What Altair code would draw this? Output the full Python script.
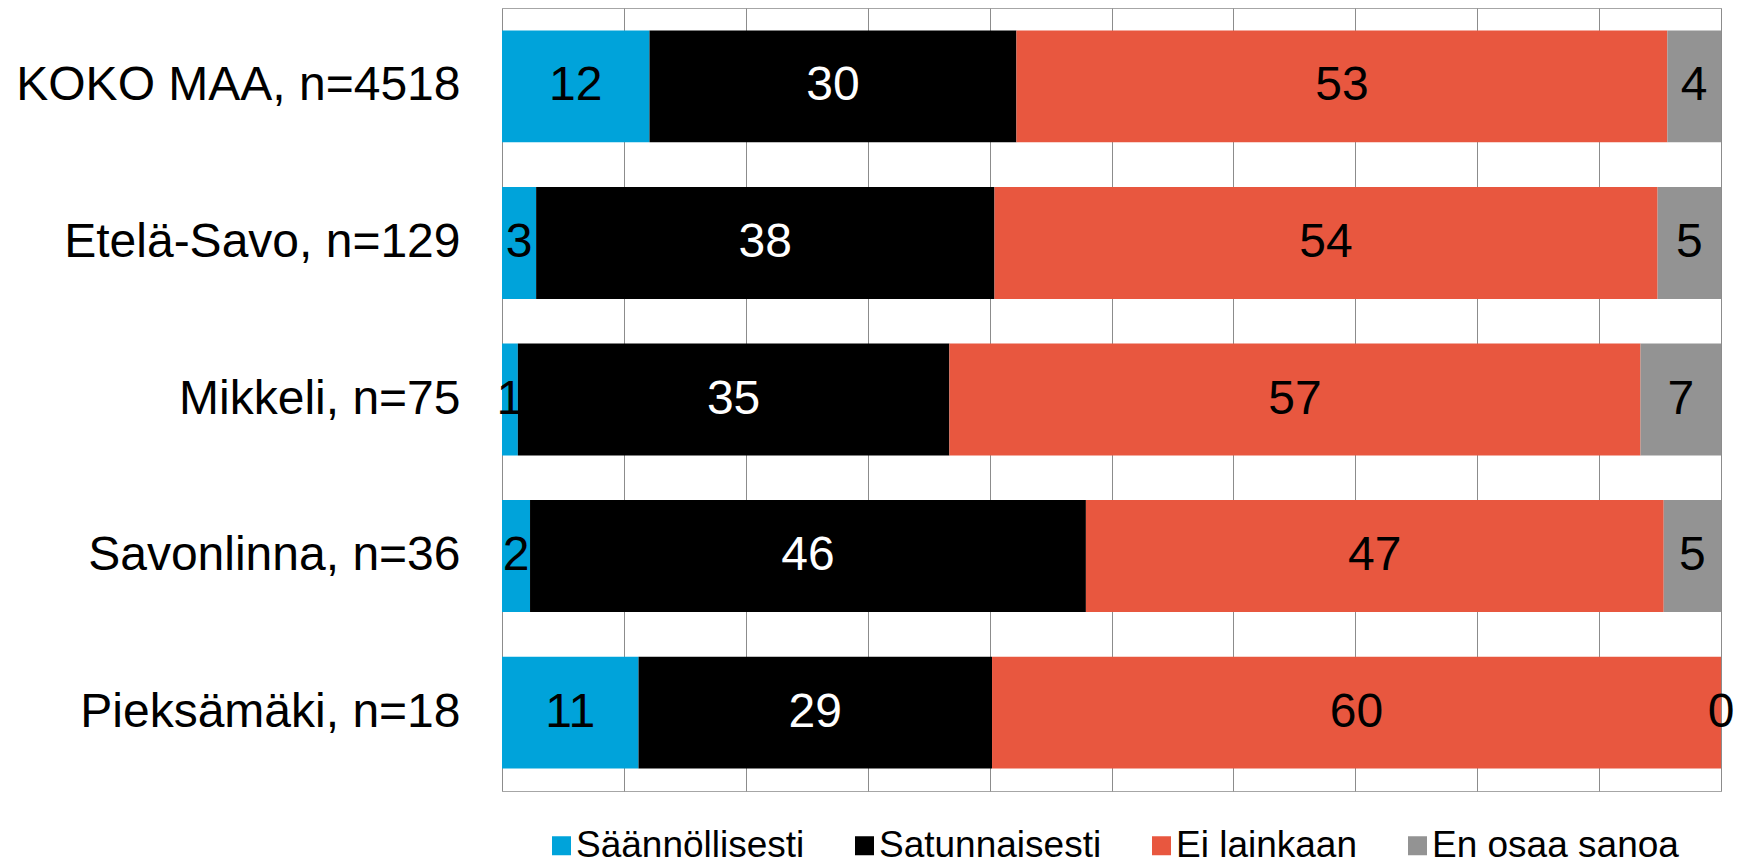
import altair as alt
import pandas as pd

regions = ["KOKO MAA, n=4518", "Etelä-Savo, n=129", "Mikkeli, n=75",
           "Savonlinna, n=36", "Pieksämäki, n=18"]
categories = ["Säännöllisesti", "Satunnaisesti", "Ei lainkaan", "En osaa sanoa"]
colors = ["#00A3DA", "#000000", "#E8573F", "#939393"]

saannollisesti = [12.1, 2.8, 1.3, 2.3, 11.2]
satunnaisesti = [30.1, 37.6, 35.4, 45.6, 29.0]
ei_lainkaan = [53.4, 54.4, 56.7, 47.4, 59.8]
en_osaa_sanoa = [4.4, 5.2, 6.6, 4.7, 0.0]

series = [saannollisesti, satunnaisesti, ei_lainkaan, en_osaa_sanoa]
rows = []
for ci, (cat, vals) in enumerate(zip(categories, series)):
    for r, v in zip(regions, vals):
        rows.append({"region": r, "category": cat, "order": ci, "value": v})
df = pd.DataFrame(rows)

FONT = "Liberation Sans"

base = alt.Chart(df).transform_stack(
    stack="value",
    groupby=["region"],
    sort=[alt.SortField("order", order="ascending")],
    as_=["x0", "x1"],
).transform_calculate(mid="(datum.x0 + datum.x1) / 2")

yenc = alt.Y(
    "region:N",
    sort=regions,
    scale=alt.Scale(paddingInner=0.285, paddingOuter=0.143),
    axis=alt.Axis(
        title=None, labelFontSize=48, labelFont=FONT, labelColor="#000000",
        labelPadding=42, ticks=False, domain=False, labelLimit=0, grid=False,
    ),
)

xscale = alt.Scale(domain=[0, 100], nice=False, zero=True)

bars = base.mark_bar().encode(
    y=yenc,
    x=alt.X(
        "x0:Q", scale=xscale,
        axis=alt.Axis(
            title=None, labels=False, ticks=False, domain=False, grid=True,
            values=[0, 10, 20, 30, 40, 50, 60, 70, 80, 90, 100],
            gridColor="#8C8C8C", gridWidth=1, gridOpacity=1,
        ),
    ),
    x2="x1:Q",
    color=alt.Color(
        "category:N",
        scale=alt.Scale(domain=categories, range=colors),
        legend=alt.Legend(
            title=None, orient="none", direction="horizontal",
            legendX=41, legendY=819,
            symbolType="square", symbolSize=361, symbolStrokeWidth=0,
            labelFontSize=37, labelFont=FONT, labelColor="#000000",
            labelOffset={"expr": "-4"}, columnPadding=41, labelLimit=0,
        ),
    ),
)

labels = base.mark_text(
    fontSize=48, font=FONT, align="center", baseline="middle"
).encode(
    y=alt.Y("region:N", sort=regions),
    x=alt.X("mid:Q", scale=xscale),
    text=alt.Text("value:Q", format=".0f"),
    color=alt.condition(
        alt.datum.category == "Satunnaisesti",
        alt.value("#FFFFFF"),
        alt.value("#000000"),
    ),
)

chart = (
    alt.layer(bars, labels)
    .properties(width=1219, height=783,
                autosize=alt.AutoSizeParams(type="none"),
                padding={"left": 494, "top": 0, "right": 20, "bottom": 66})
    .configure_view(stroke="#A6A6A6", strokeWidth=1)
)

chart.save("out.html", embed_options={"renderer": "svg", "actions": False})
